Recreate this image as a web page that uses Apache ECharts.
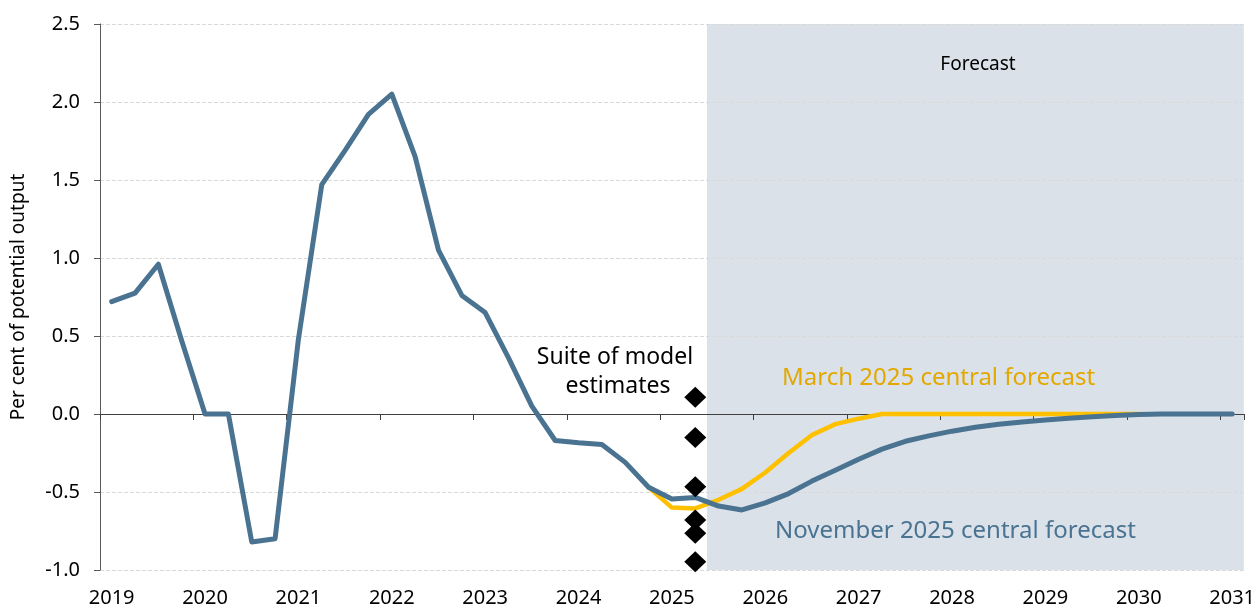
<!DOCTYPE html>
<html>
<head>
<meta charset="utf-8">
<script src="https://cdn.jsdelivr.net/npm/echarts@6/dist/echarts.min.js"></script>
<style>
  html, body { margin: 0; padding: 0; background: #fff; }
  #main { width: 1258px; height: 608px; }
</style>
</head>
<body>
<div id="main"></div>
<script>
// year labels, one category per quarter (2019 Q1 .. 2031 Q1)
const years = ['2019','2020','2021','2022','2023','2024','2025','2026','2027','2028','2029','2030','2031'];
const quarters = [];
years.forEach(y => {
  for (let q = 1; q <= 4; q++) {
    if (y === '2031' && q > 1) break;
    quarters.push(y + ' Q' + q);
  }
});

// November 2025 central forecast (per cent of potential output)
const novData = [
  0.72, 0.775, 0.96, 0.47,          // 2019
  0.0, 0.0, -0.82, -0.80,           // 2020
  0.48, 1.47, 1.69, 1.92,           // 2021
  2.05, 1.65, 1.05, 0.76,           // 2022
  0.65, 0.36, 0.05, -0.17,          // 2023
  -0.185, -0.195, -0.31, -0.47,     // 2024
  -0.545, -0.535, -0.59, -0.615,    // 2025
  -0.57, -0.51, -0.43, -0.36,       // 2026
  -0.29, -0.225, -0.175, -0.14,     // 2027
  -0.11, -0.085, -0.066, -0.051,    // 2028
  -0.038, -0.028, -0.017, -0.01,    // 2029
  -0.003, 0, 0, 0,                  // 2030
  0                                 // 2031
];

// March 2025 central forecast, starts 2024 Q4 and ends 2030 Q1
const marData = [
  null, null, null, null,
  null, null, null, null,
  null, null, null, null,
  null, null, null, null,
  null, null, null, null,
  null, null, null, -0.47,
  -0.60, -0.605, -0.55, -0.48,
  -0.375, -0.25, -0.135, -0.065,
  -0.03, 0, 0, 0,
  0, 0, 0, 0,
  0, 0, 0, 0,
  0
];

// suite of model estimates, all plotted at 2025 Q2
const modelQuarter = '2025 Q2';
const modelEstimates = [0.107, -0.15, -0.466, -0.68, -0.765, -0.947];

// forecast period, in quarter positions (from start of 2025 Q3 to the end)
const forecastStart = 26;
const forecastEnd = 49;

const FONT = '"Noto Sans", sans-serif';

const myChart = echarts.init(document.getElementById('main'));

myChart.setOption({
  animation: false,
  grid: { left: 100, right: 11, top: 24, bottom: 38 },
  xAxis: [
    {
      // bottom labels only
      type: 'category',
      data: quarters,
      position: 'bottom',
      boundaryGap: true,
      axisLine: { show: false, onZero: false },
      axisTick: { show: false },
      axisLabel: {
        interval: 3,
        margin: 18,
        fontSize: 20,
        fontFamily: FONT,
        color: '#000',
        formatter: v => v.slice(0, 4)
      },
      splitLine: { show: false }
    },
    {
      // the zero line with year ticks
      type: 'category',
      data: quarters,
      position: 'top',
      boundaryGap: true,
      axisLine: { show: true, onZero: true, lineStyle: { color: '#404040', width: 1 } },
      axisTick: { show: true, inside: true, interval: 3, length: 6, lineStyle: { color: '#404040' } },
      axisLabel: { show: false },
      splitLine: { show: false }
    },
    {
      // helper for the forecast shading
      type: 'value',
      position: 'bottom',
      min: 0,
      max: 49,
      show: false
    }
  ],
  yAxis: {
    type: 'value',
    min: -1,
    max: 2.5,
    interval: 0.5,
    name: 'Per cent of potential output',
    nameLocation: 'middle',
    nameGap: 72,
    nameTextStyle: { fontSize: 19, fontFamily: FONT, color: '#000' },
    axisLine: { show: true, lineStyle: { color: '#595959' } },
    axisTick: { show: true, length: 6, lineStyle: { color: '#595959' } },
    axisLabel: {
      margin: 20,
      fontSize: 20,
      fontFamily: FONT,
      color: '#000',
      formatter: v => v.toFixed(1)
    },
    splitLine: { show: true, lineStyle: { color: '#d9d9d9', type: 'dashed', width: 1 } }
  },
  series: [
    {
      name: 'forecast period',
      type: 'line',
      xAxisIndex: 2,
      data: [],
      z: -1,
      silent: true,
      markArea: {
        silent: true,
        z: -1,
        itemStyle: { color: '#DAE1E8' },
        data: [[{ xAxis: forecastStart }, { xAxis: forecastEnd }]]
      }
    },
    {
      name: 'March 2025 central forecast',
      type: 'line',
      xAxisIndex: 0,
      data: marData,
      symbol: 'none',
      connectNulls: false,
      lineStyle: { color: '#FFC000', width: 4.5, cap: 'round', join: 'round' },
      z: 3
    },
    {
      name: 'November 2025 central forecast',
      type: 'line',
      xAxisIndex: 0,
      data: novData,
      symbol: 'none',
      lineStyle: { color: '#4A7391', width: 5, cap: 'round', join: 'round' },
      z: 4
    },
    {
      name: 'Suite of model estimates',
      type: 'scatter',
      xAxisIndex: 0,
      data: modelEstimates.map(v => [modelQuarter, v]),
      symbol: 'diamond',
      symbolSize: [22, 21],
      itemStyle: { color: '#000', opacity: 1 },
      z: 5
    }
  ],
  graphic: [
    {
      type: 'text', x: 978, y: 65, z: 10,
      style: { text: 'Forecast', font: '19px ' + FONT, fill: '#000',
        align: 'center', verticalAlign: 'middle', textAlign: 'center', textVerticalAlign: 'middle' }
    },
    {
      type: 'text', x: 615, y: 357, z: 10,
      style: { text: 'Suite of model', font: '23px ' + FONT, fill: '#000',
        align: 'center', verticalAlign: 'middle', textAlign: 'center', textVerticalAlign: 'middle' }
    },
    {
      type: 'text', x: 618, y: 386, z: 10,
      style: { text: 'estimates', font: '23px ' + FONT, fill: '#000',
        align: 'center', verticalAlign: 'middle', textAlign: 'center', textVerticalAlign: 'middle' }
    },
    {
      type: 'text', x: 782, y: 378, z: 10,
      style: { text: 'March 2025 central forecast', font: '24px ' + FONT, fill: '#E3A800',
        align: 'left', verticalAlign: 'middle', textAlign: 'left', textVerticalAlign: 'middle' }
    },
    {
      type: 'text', x: 775, y: 531, z: 10,
      style: { text: 'November 2025 central forecast', font: '24px ' + FONT, fill: '#4A7391',
        align: 'left', verticalAlign: 'middle', textAlign: 'left', textVerticalAlign: 'middle' }
    }
  ]
});
</script>
</body>
</html>
